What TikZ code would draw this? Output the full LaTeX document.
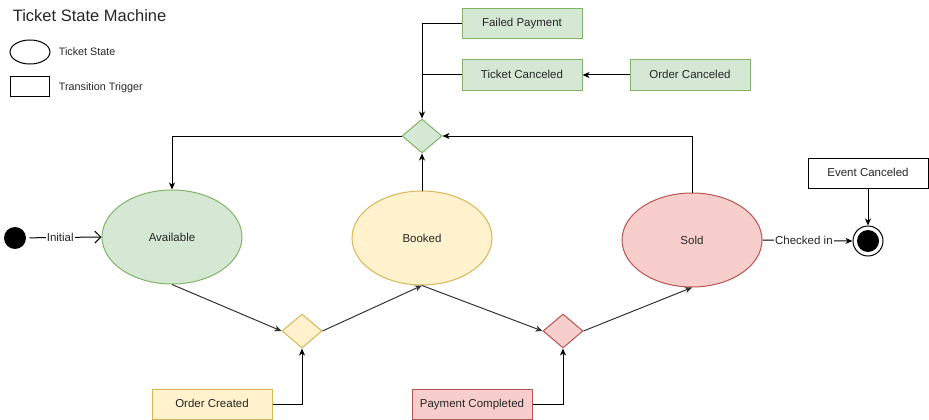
\documentclass[tikz,border=0pt]{standalone}
\usepackage{fontspec}
\setmainfont{Liberation Sans}
\usetikzlibrary{shapes.geometric, arrows.meta}

\definecolor{greenfill}{HTML}{D5E8D4}
\definecolor{greenline}{HTML}{82B366}
\definecolor{yellowfill}{HTML}{FFF2CC}
\definecolor{yellowline}{HTML}{D6B656}
\definecolor{redfill}{HTML}{F8CECC}
\definecolor{redline}{HTML}{B85450}

\begin{document}
\begin{tikzpicture}[x=1pt, y=-1pt, line width=1pt,
    font=\fontsize{11.5}{13}\selectfont, text=black!85,
    state/.style={ellipse, draw, minimum width=140pt, minimum height=94pt, inner sep=0pt},
    trigger/.style={rectangle, draw, minimum width=120pt, minimum height=30pt, inner sep=0pt,
      text height=8.5pt, text depth=2.5pt},
    choice/.style={diamond, draw, minimum width=40pt, minimum height=34pt, inner sep=0pt},
    edge/.style={-{Stealth[length=7pt, width=6pt, inset=2pt]}},
    tag/.style={fill=white, inner sep=1pt}]
  \useasboundingbox (0, 0) rectangle (929, 420);

  % legend
  \node[anchor=west, font=\fontsize{16.5}{18}\selectfont] (title) at (9, 16) {Ticket State Machine};
  \node[ellipse, draw, minimum width=40pt, minimum height=24pt, inner sep=0pt] (legstate) at (30, 52) {};
  \node[anchor=west, font=\fontsize{10.8}{12}\selectfont] (legstatetxt) at (55, 52) {Ticket State};
  \node[rectangle, draw, minimum width=39pt, minimum height=19pt, inner sep=0pt] (legtrig) at (29.5, 86.5) {};
  \node[anchor=west, font=\fontsize{10.8}{12}\selectfont] (legtrigtxt) at (55, 88) {Transition Trigger};

  % states
  \node[circle, fill=black, minimum size=22pt, inner sep=0pt] (init) at (15, 238) {};
  \node[state, fill=greenfill, draw=greenline] (avail) at (172, 237) {Available};
  \node[state, fill=yellowfill, draw=yellowline] (booked) at (422, 238) {Booked};
  \node[state, fill=redfill, draw=redline] (sold) at (692, 240) {Sold};
  \node[circle, draw, fill=white, minimum size=30pt, inner sep=0pt] (final) at (868, 241) {};
  \node[circle, fill=black, minimum size=22pt, inner sep=0pt] (finalin) at (868, 241) {};

  % choices
  \node[choice, fill=greenfill, draw=greenline] (cancel) at (422, 136) {};
  \node[choice, fill=yellowfill, draw=yellowline] (order) at (302, 331) {};
  \node[choice, fill=redfill, draw=redline] (pay) at (563, 331) {};

  % triggers
  \node[trigger, fill=greenfill, draw=greenline] (failed) at (522, 24) {Failed Payment};
  \node[trigger, fill=greenfill, draw=greenline] (ticketc) at (522, 75) {Ticket Canceled};
  \node[trigger, fill=greenfill, draw=greenline] (orderc) at (690, 75) {Order Canceled};
  \node[trigger, fill=yellowfill, draw=yellowline] (created) at (212, 404) {Order Created};
  \node[trigger, fill=redfill, draw=redline] (paid) at (472, 404) {Payment Completed};
  \node[trigger] (event) at (868, 173) {Event Canceled};

  % transitions
  \draw[-{Straight Barb[length=6pt, width=12pt]}, shorten <=3pt] (init) -- (avail.west)
    node[tag, pos=0.45] {Initial};
  \draw[edge, black!80] (avail.south) -- (order.west);
  \draw[edge, black!80] (order.east) -- (booked.south);
  \draw[edge, black!80] (booked.south) -- (pay.west);
  \draw[edge, black!80] (pay.east) -- (sold.south);
  \draw[edge] (created.east) -| (order.south);
  \draw[edge] (paid.east) -| (pay.south);
  \draw[edge] (booked.north) -- (cancel.south);
  \draw[edge] (sold.north) |- (cancel.east);
  \draw[edge] (cancel.west) -| (avail.north);
  \draw[edge] (failed.west) -| (cancel.north);
  \draw (ticketc.west) -- (ticketc.west -| cancel.north);
  \draw[edge] (orderc.west) -- (ticketc.east);
  \draw[edge] (sold.east) -- (final.west)
    node[tag, pos=0.46] {Checked in};
  \draw[edge] (event.south) -- (final.north);
\end{tikzpicture}
\end{document}
